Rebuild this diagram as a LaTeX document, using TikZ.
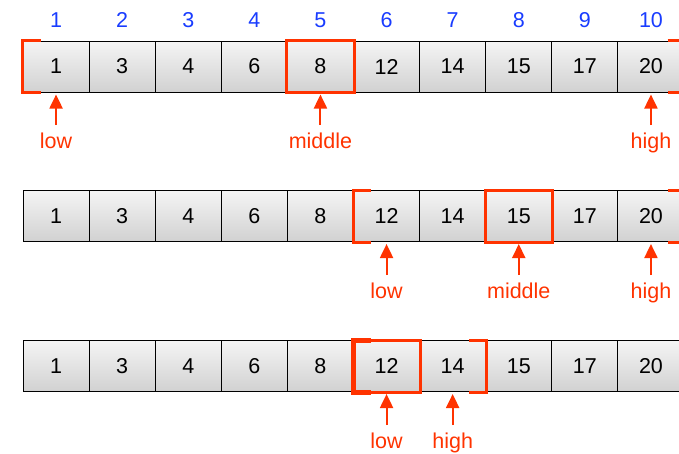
\documentclass[tikz,border=0pt]{standalone}
\usepackage{fontspec}
\setmainfont{Liberation Sans}
\usetikzlibrary{calc,arrows.meta}
\definecolor{myred}{RGB}{255,51,0}
\definecolor{myblue}{RGB}{25,60,255}
\begin{document}
\begin{tikzpicture}[x=1pt,y=-1pt,
  cell/.style={draw=black, line width=1pt, minimum width=66.1pt, minimum height=51pt,
    inner sep=0pt, top color=white!96!black, bottom color=white!82!black,
    font=\fontsize{21.5}{24}\selectfont},
  idx/.style={text=myblue, inner sep=0pt, font=\fontsize{21.5}{24}\selectfont},
  lbl/.style={text=myred, inner sep=0pt, anchor=base, font=\fontsize{21.5}{24}\selectfont},
  ptr/.style={draw=myred, line width=2pt, -{Triangle[width=13pt,length=14pt]}},
  brk/.style={draw=myred, line width=3pt, line join=miter},
  midbox/.style={draw=myred, line width=3pt}]
\useasboundingbox (0,0) rectangle (679,453);
\foreach \r/\yy in {1/66.5, 2/216, 3/366}{
  \foreach \v [count=\i] in {1,3,4,6,8,12,14,15,17,20}{
    \node[cell] (c\r-\i) at ({23+66.1*(\i-0.5)}, \yy) {\v};
  }
}
\foreach \i in {1,...,10}{
  \node[idx] (n\i) at ({23+66.1*(\i-0.5)}, 20) {\i};
}
% row 1
\node[lbl] (low1) at (c1-1.center |- 0,148) {low};
\node[lbl] (mid1) at (c1-5.center |- 0,148) {middle};
\node[lbl] (high1) at (c1-10.center |- 0,148) {high};
\draw[ptr] ($(low1.north)+(0,-7)$) -- ($(c1-1.south)+(0,2)$);
\draw[ptr] ($(mid1.north)+(0,-7)$) -- ($(c1-5.south)+(0,2)$);
\draw[ptr] ($(high1.north)+(0,-7)$) -- ($(c1-10.south)+(0,2)$);
\draw[brk] ($(c1-1.north west)+(18,0)$) -- (c1-1.north west) -- (c1-1.south west) -- ($(c1-1.south west)+(18,0)$);
\draw[midbox] (c1-5.north west) rectangle (c1-5.south east);
\draw[brk] ($(c1-10.north east)+(-17,0)$) -- (c1-10.north east) -- (c1-10.south east) -- ($(c1-10.south east)+(-17,0)$);
% row 2
\node[lbl] (low2) at (c2-6.center |- 0,298) {low};
\node[lbl] (mid2) at (c2-8.center |- 0,298) {middle};
\node[lbl] (high2) at (c2-10.center |- 0,298) {high};
\draw[ptr] ($(low2.north)+(0,-7)$) -- ($(c2-6.south)+(0,2)$);
\draw[ptr] ($(mid2.north)+(0,-7)$) -- ($(c2-8.south)+(0,2)$);
\draw[ptr] ($(high2.north)+(0,-7)$) -- ($(c2-10.south)+(0,2)$);
\draw[brk] ($(c2-6.north west)+(18,0)$) -- (c2-6.north west) -- (c2-6.south west) -- ($(c2-6.south west)+(18,0)$);
\draw[midbox] (c2-8.north west) rectangle (c2-8.south east);
\draw[brk] ($(c2-10.north east)+(-17,0)$) -- (c2-10.north east) -- (c2-10.south east) -- ($(c2-10.south east)+(-17,0)$);
% row 3
\node[lbl] (low3) at (c3-6.center |- 0,448) {low};
\node[lbl] (high3) at (c3-7.center |- 0,448) {high};
\draw[ptr] ($(low3.north)+(0,-7)$) -- ($(c3-6.south)+(0,2)$);
\draw[ptr] ($(high3.north)+(0,-7)$) -- ($(c3-7.south)+(0,2)$);
\draw[midbox] (c3-6.north west) rectangle (c3-6.south east);
\draw[brk, line width=5pt] ($(c3-6.north west)+(18,0)$) -- (c3-6.north west) -- (c3-6.south west) -- ($(c3-6.south west)+(18,0)$);
\draw[brk] ($(c3-7.north east)+(-17,0)$) -- (c3-7.north east) -- (c3-7.south east) -- ($(c3-7.south east)+(-17,0)$);
\end{tikzpicture}
\end{document}
